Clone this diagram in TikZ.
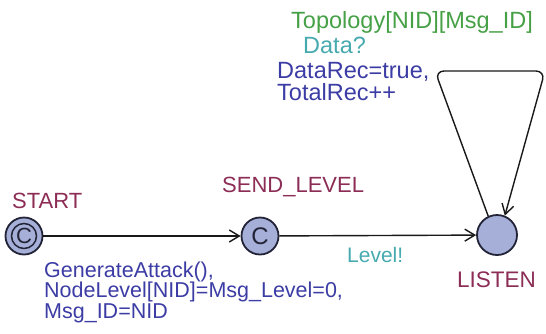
\documentclass[tikz,border=0pt]{standalone}
\usepackage{fontspec}
\setmainfont{Liberation Sans}
\usetikzlibrary{arrows.meta, positioning}

\definecolor{locname}{RGB}{140,45,85}
\definecolor{upd}{RGB}{60,60,165}
\definecolor{grd}{RGB}{70,160,70}
\definecolor{syn}{RGB}{70,170,175}
\definecolor{locfill}{RGB}{165,175,215}
\definecolor{locdraw}{RGB}{35,35,55}

\begin{document}
\begin{tikzpicture}[
    x=1pt, y=-1pt,
    loc/.style={circle, draw=locdraw, fill=locfill, line width=1.8pt,
                inner sep=0pt, font=\fontsize{24}{24}\selectfont, text=locdraw},
    lbl/.style={anchor=base west, inner sep=0pt, font=\fontsize{22}{20.5}\selectfont, align=left},
    toplbl/.style={lbl, font=\fontsize{23.5}{20}\selectfont},
    edge/.style={-{Straight Barb[length=10pt, width=12pt]}, line width=1.4pt, draw=black!90},
]
\useasboundingbox (0,0) rectangle (546,333);

% Locations
\node[loc, minimum size=37pt] (start) at (24,236) {};
\draw[locdraw, line width=1.5pt] (start.center) circle (12.5pt);
\node[font=\fontsize{22}{22}\selectfont, text=locdraw] at (start.center) {C};
\node[loc, minimum size=37pt] (send) at (260,236) {C};
\node[loc, minimum size=40pt] (listen) at (497,235) {};

% Location names
\node[lbl, text=locname] (startname) at (12,208) {START};
\node[lbl, text=locname] (sendname) at (222,192) {SEND\_LEVEL};
\node[lbl, text=locname, font=\fontsize{22.5}{20}\selectfont] (listenname) at (457,287) {LISTEN};

% Edges
\draw[edge] (start) -- (send);
\draw[edge] (send) -- (listen);

% Self loop
\coordinate (loopl) at (435,71);
\coordinate (loopr) at (545,71);
\draw[edge, rounded corners=9pt] (listen.115) -- (loopl) -- (loopr) -- (listen.68);

% Edge labels
\node[lbl, text=upd, font=\fontsize{21.5}{20.5}\selectfont] (startupd) at (44,318) {GenerateAttack(),\\NodeLevel[NID]=Msg\_Level=0,\\Msg\_ID=NID};
\node[lbl, text=syn, font=\fontsize{21}{20}\selectfont] (sendsync) at (347,262) {Level!};
\node[toplbl, text=grd] (loopguard) at (291,28) {Topology[NID][Msg\_ID]};
\node[toplbl, text=syn] (loopsync) at (303,53) {Data?};
\node[toplbl, text=upd] (loopupd) at (277,100) {DataRec=true,\\TotalRec++};

\end{tikzpicture}
\end{document}
